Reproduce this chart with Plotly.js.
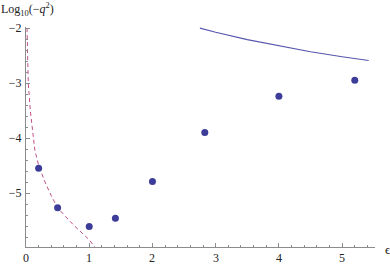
<!DOCTYPE html>
<html>
<head>
<meta charset="utf-8">
<script src="https://cdn.plot.ly/plotly-3.0.1.min.js"></script>
<style>html,body{margin:0;padding:0;background:#fff}#chart{width:390px;height:265px}</style>
</head>
<body>
<div id="chart"></div>
<script>
// Data points (epsilon, log10(-q^2))
const pointX = [0.2, 0.5, 1.0, 1.414, 2.0, 2.828, 4.0, 5.2];
const pointY = [-4.55, -5.27, -5.61, -5.46, -4.79, -3.9, -3.24, -2.95];

// Solid curve
const solidX = [2.75, 3.0, 3.5, 4.0, 4.5, 5.0, 5.42];
const solidY = [-2.0, -2.075, -2.21, -2.325, -2.43, -2.52, -2.59];

// Dashed curve
const dashX = [0.016, 0.026, 0.036, 0.068, 0.116, 0.14, 0.2, 0.3, 0.4, 0.5, 0.75, 1.0, 1.1];
const dashY = [-2.0, -2.5, -3.0, -3.5, -4.0, -4.22, -4.5, -4.8, -5.05, -5.27, -5.58, -5.85, -6.0];

const xTicks = [0, 1, 2, 3, 4, 5];
const xTickText = ['0', '1', '2', '3', '4', '5'];
const yTicks = [-5, -4, -3, -2];
const yTickText = ['\u22125', '\u22124', '\u22123', '\u22122'];

const SERIF = 'Liberation Serif';
const TXT = '#222222';
const AXC = '#8c8c8c';

const traces = [
  {x: dashX, y: dashY, mode: 'lines', line: {color: '#BE5088', width: 1, dash: '4px,3px'}, hoverinfo: 'skip'},
  {x: solidX, y: solidY, mode: 'lines', line: {color: '#5656AE', width: 1.1}, hoverinfo: 'skip'},
  {x: pointX, y: pointY, mode: 'markers', marker: {color: '#3D3D99', size: 7}, hoverinfo: 'skip'}
];

// x tick labels placed just under the axis, built from the tick arrays
const xLabelAnns = xTicks.map((v, i) => ({
  xref: 'x', yref: 'paper', x: v, y: 0, yshift: -11, xanchor: 'center', yanchor: 'middle',
  text: xTickText[i], showarrow: false, font: {family: SERIF, size: 12, color: TXT}
}));

const layout = {
  width: 390, height: 265,
  margin: {l: 26, r: 15, t: 27, b: 18},
  paper_bgcolor: '#fff', plot_bgcolor: '#fff',
  font: {family: SERIF, size: 12, color: TXT},
  showlegend: false,
  xaxis: {
    range: [0, 5.52], tickmode: 'array', tickvals: xTicks, showticklabels: false,
    showline: true, linecolor: AXC, linewidth: 1, showgrid: false, zeroline: false,
    ticks: 'inside', ticklen: 4, tickcolor: AXC, tickwidth: 1,
    minor: {dtick: 0.2, tick0: 0, ticks: 'inside', ticklen: 2, tickcolor: AXC, showgrid: false}
  },
  yaxis: {
    range: [-5.982, -1.98], tickmode: 'array', tickvals: yTicks, ticktext: yTickText,
    showline: true, linecolor: AXC, linewidth: 1, showgrid: false, zeroline: false,
    ticks: 'inside', ticklen: 4, tickcolor: AXC, tickwidth: 1,
    tickfont: {family: SERIF, size: 12, color: TXT},
    minor: {dtick: 0.2, tick0: -6, ticks: 'inside', ticklen: 2, tickcolor: AXC, showgrid: false},
    ticklabelstandoff: 1
  },
  annotations: xLabelAnns.concat([
    {xref: 'paper', yref: 'paper', x: 0, xshift: -27, y: 1, yshift: 28, xanchor: 'left', yanchor: 'top',
     text: 'Log<sub>10</sub>(\u2212<i>q</i><sup>2</sup>)', showarrow: false, font: {family: SERIF, size: 12, color: TXT}},
    {xref: 'paper', yref: 'paper', x: 1, xshift: 8, y: 0, yshift: -2, xanchor: 'left', yanchor: 'middle',
     text: '\u03F5', showarrow: false, font: {family: SERIF, size: 13, color: TXT}}
  ])
};

Plotly.newPlot('chart', traces, layout, {staticPlot: true, displayModeBar: false});
</script>
</body>
</html>
